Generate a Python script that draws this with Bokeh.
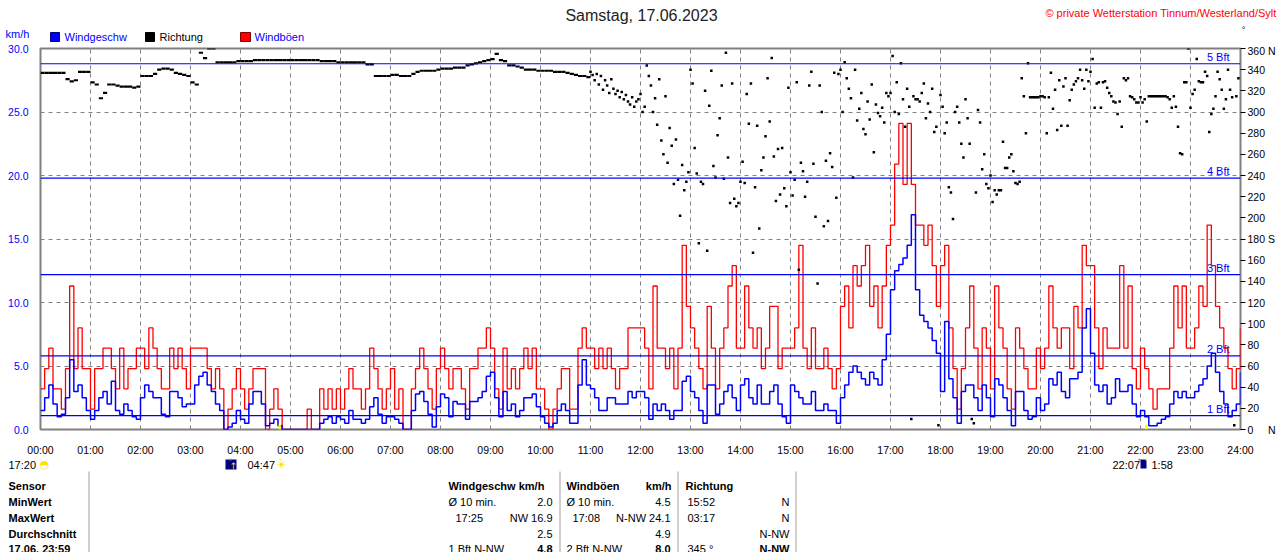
from bokeh.plotting import figure
from bokeh.layouts import column
from bokeh.models import Range1d, LinearAxis, FixedTicker, Span
from bokeh.embed import file_html
from bokeh.resources import INLINE
from bokeh.core.properties import value

# ---------------- data ----------------
hour_ticks = list(range(25))
hour_labels = ["%02d:00" % h for h in hour_ticks]
kmh_ticks = [0, 5, 10, 15, 20, 25, 30]
kmh_labels = ["0.0", "5.0", "10.0", "15.0", "20.0", "25.0", "30.0"]
dir_ticks = list(range(0, 361, 20))
dir_labels = {0: "0\u00a0\u00a0\u00a0\u00a0\u00a0N", 180: "180 S", 360: "360 N"}

# gusts (km/h), one value per 5 minutes, 00:00 .. 24:00
gust_kmh = [
    3.2, 4.8, 6.4, 3.2, 3.2, 1.6, 4.8, 11.3, 4.8, 8.0, 4.8, 4.8,
    1.6, 4.8, 4.8, 6.4, 6.4, 4.8, 3.2, 6.4, 3.2, 4.8, 4.8, 6.4,
    6.4, 4.8, 8.0, 6.4, 4.8, 3.2, 3.2, 6.4, 4.8, 6.4, 4.8, 3.2,
    6.4, 6.4, 6.4, 6.4, 4.8, 3.2, 4.8, 3.2, 0.0, 1.6, 3.2, 4.8,
    3.2, 1.6, 3.2, 4.8, 4.8, 4.8, 0.0, 1.6, 3.2, 1.6, 0.0, 0.0,
    0.0, 0.0, 0.0, 0.0, 1.6, 0.0, 0.0, 3.2, 1.6, 3.2, 1.6, 3.2,
    1.6, 3.2, 4.8, 3.2, 3.2, 1.6, 3.2, 6.4, 4.8, 3.2, 1.6, 3.2,
    4.8, 1.6, 3.2, 0.0, 0.0, 3.2, 4.8, 6.4, 4.8, 3.2, 1.6, 4.8,
    6.4, 4.8, 3.2, 4.8, 4.8, 3.2, 1.6, 4.8, 4.8, 6.4, 6.4, 8.0,
    6.4, 3.2, 1.6, 6.4, 3.2, 4.8, 3.2, 4.8, 6.4, 4.8, 6.4, 3.2,
    3.2, 1.6, 0.0, 1.6, 3.2, 4.8, 4.8, 1.6, 1.6, 6.4, 8.0, 6.4,
    6.4, 4.8, 6.4, 4.8, 6.4, 4.8, 3.2, 4.8, 4.8, 8.0, 8.0, 8.0,
    8.0, 6.4, 3.2, 11.3, 6.4, 6.4, 4.8, 6.4, 3.2, 6.4, 14.5, 9.7,
    8.0, 6.4, 4.8, 3.2, 9.7, 6.4, 3.2, 6.4, 8.0, 11.3, 12.9, 6.4,
    6.4, 11.3, 8.0, 6.4, 8.0, 4.8, 6.4, 9.7, 9.7, 4.8, 6.4, 6.4,
    6.4, 8.0, 14.5, 6.4, 4.8, 8.0, 4.8, 4.8, 6.4, 4.8, 3.2, 4.8,
    9.7, 11.3, 8.0, 12.9, 11.3, 12.9, 14.5, 9.7, 11.3, 8.0, 11.3, 14.5,
    16.1, 20.9, 24.1, 19.3, 24.1, 19.3, 16.1, 16.1, 14.5, 16.1, 12.9, 9.7,
    12.9, 14.5, 8.0, 4.8, 1.6, 4.8, 8.0, 11.3, 6.4, 3.2, 8.0, 6.4,
    3.2, 11.3, 8.0, 6.4, 3.2, 1.6, 8.0, 6.4, 4.8, 3.2, 3.2, 6.4,
    4.8, 6.4, 11.3, 8.0, 6.4, 8.0, 8.0, 4.8, 9.7, 8.0, 14.5, 12.9,
    12.9, 8.0, 4.8, 8.0, 6.4, 6.4, 6.4, 12.9, 6.4, 11.3, 4.8, 3.2,
    6.4, 4.8, 3.2, 1.6, 3.2, 3.2, 3.2, 6.4, 11.3, 8.0, 11.3, 6.4,
    6.4, 8.0, 11.3, 9.7, 16.1, 12.9, 9.7, 8.0, 6.4, 4.8, 3.2, 4.8,
    8.0,
]

# wind speed (km/h), one value per 5 minutes, 00:00 .. 24:00
speed_kmh = [
    1.5, 2.5, 3.5, 2.0, 1.0, 1.2, 2.5, 5.5, 3.0, 3.5, 2.5, 1.5,
    0.8, 1.5, 2.5, 3.0, 2.0, 3.8, 1.5, 1.2, 2.0, 1.5, 1.0, 0.8,
    2.5, 3.5, 3.0, 2.5, 2.5, 1.2, 1.0, 3.0, 3.0, 2.5, 1.8, 2.0,
    2.0, 3.5, 4.2, 4.5, 3.5, 3.0, 2.0, 1.5, 0.0, 0.2, 0.5, 1.5,
    0.8, 0.5, 2.0, 3.0, 3.0, 2.0, 0.3, 0.5, 0.8, 0.3, 0.0, 0.0,
    0.0, 0.0, 0.0, 0.0, 0.0, 0.0, 0.0, 0.5, 0.8, 1.0, 0.5, 1.0,
    0.8, 0.5, 1.5, 0.8, 0.8, 0.5, 0.8, 1.8, 2.5, 1.2, 0.5, 1.0,
    1.0, 0.8, 0.5, 0.0, 0.0, 1.5, 2.8, 3.0, 2.2, 1.2, 0.2, 1.8,
    2.8, 2.5, 1.0, 2.2, 2.0, 2.0, 0.8, 2.2, 2.2, 2.5, 3.0, 4.2,
    4.5, 2.5, 1.0, 3.0, 1.5, 2.0, 1.0, 1.5, 2.5, 2.5, 2.8, 1.8,
    1.0, 0.5, 0.2, 0.5, 1.5, 2.0, 1.5, 0.5, 0.5, 3.5, 5.5, 3.5,
    3.2, 2.5, 1.5, 1.5, 2.5, 2.5, 2.0, 2.0, 2.0, 3.0, 2.5, 3.0,
    3.0, 2.5, 0.8, 2.0, 1.5, 2.0, 1.5, 0.8, 1.5, 1.5, 3.8, 4.2,
    3.0, 2.5, 1.5, 0.5, 3.5, 3.5, 1.2, 2.0, 3.0, 3.5, 2.5, 1.5,
    3.5, 4.0, 2.5, 2.0, 3.5, 2.0, 2.0, 3.0, 3.5, 2.0, 1.0, 0.5,
    3.5, 3.0, 2.5, 2.0, 2.0, 3.0, 1.5, 1.5, 2.0, 1.5, 1.5, 0.5,
    2.5, 3.5, 4.5, 5.0, 4.5, 4.0, 3.5, 4.5, 4.0, 3.5, 5.5, 7.5,
    11.0, 12.5, 13.0, 13.5, 14.5, 16.9, 11.0, 9.0, 8.5, 8.0, 7.0, 6.0,
    3.0, 8.5, 4.0, 2.5, 0.5, 3.0, 3.5, 3.5, 2.5, 1.5, 3.5, 2.5,
    1.0, 4.0, 3.5, 2.5, 1.5, 0.3, 3.0, 3.0, 1.5, 0.8, 1.0, 2.5,
    1.5, 2.0, 4.0, 3.5, 4.5, 3.0, 2.5, 4.0, 4.0, 4.5, 8.0, 9.5,
    6.0, 3.5, 3.0, 3.5, 2.0, 2.5, 4.0, 3.0, 3.0, 3.5, 2.0, 1.0,
    1.5, 1.0, 0.3, 0.3, 0.5, 0.8, 1.0, 2.0, 3.0, 2.5, 3.0, 2.5,
    2.5, 3.0, 3.5, 4.0, 5.0, 6.0, 4.5, 3.0, 2.0, 1.0, 1.5, 2.0,
    4.5,
]

# wind direction (degrees), 00:00 .. 11:00, one value per 5 minutes
dir_steady = [
    337, 337, 337, 337, 337, 337, 331, 329, 330, 338, 338, 338,
    328, 326, 313, 318, 326, 326, 325, 324, 324, 324, 323, 324,
    334, 334, 334, 336, 340, 341, 341, 340, 337, 336, 335, 334,
    328, 326, 356, 351, 360, 360, 347, 347, 347, 347, 347, 348,
    348, 348, 348, 349, 349, 349, 349, 349, 349, 349, 349, 349,
    349, 349, 349, 349, 349, 349, 349, 348, 348, 348, 348, 347,
    347, 347, 347, 347, 347, 347, 345, 345, 334, 334, 334, 334,
    335, 335, 334, 334, 334, 336, 338, 339, 339, 339, 339, 340,
    341, 341, 341, 342, 342, 342, 344, 345, 346, 347, 348, 349,
    350, 355, 349, 348, 344, 344, 343, 342, 340, 340, 340, 339,
    339, 339, 339, 338, 338, 338, 337, 336, 335, 334, 334, 333,
]

# wind direction (degrees), 11:00 .. 24:00, one value per 2.5 minutes
dir_gusty = [
    338, 335, 330, 336, 326, 334, 321, 330, 325, 318, 331, 322, 317, 320, 314, 319, 312, 316, 310, 307, 314, 305, 310, 312,
    317, 300, 305, 344, 334, 325, 300, 313, 288, 331, 273, 260, 315, 252, 285, 268, 232, 274, 236, 202, 250, 226, 234, 243,
    340, 327, 266, 242, 176, 234, 232, 320, 169, 306, 339, 249, 238, 278, 294, 325, 237, 356, 257, 214, 327, 218, 211, 214,
    234, 253, 233, 317, 289, 327, 167, 229, 287, 190, 245, 257, 277, 332, 291, 351, 258, 216, 265, 222, 266, 228, 211, 323,
    243, 221, 236, 328, 151, 252, 244, 220, 234, 325, 338, 251, 201, 138, 325, 300, 192, 254, 197, 261, 248, 337, 219, 336,
    340, 300, 347, 332, 322, 313, 238, 340, 292, 303, 318, 284, 279, 310, 293, 326, 262, 307, 299, 296, 304, 290, 318, 315,
    318, 353, 300, 328, 298, 346, 312, 286, 322, 305, 10, 315, 312, 312, 310, 318, 327, 294, 308, 300, 322, 281, 286, 4,
    316, 305, 280, 290, 229, 224, 199, 300, 305, 290, 270, 257, 312, 294, 270, 10, 6, 224, 302, 290, 246, 260, 232, 228,
    240, 215, 226, 222, 226, 226, 272, 247, 247, 257, 260, 244, 233, 232, 234, 332, 315, 280, 346, 314, 314, 314, 314, 314,
    315, 315, 314, 280, 314, 337, 303, 321, 283, 330, 287, 324, 332, 287, 311, 321, 326, 329, 332, 340, 330, 322, 340, 329,
    338, 350, 304, 327, 328, 304, 328, 329, 323, 318, 315, 310, 309, 298, 310, 286, 332, 330, 332, 315, 314, 312, 309, 309,
    314, 309, 312, 291, 315, 315, 315, 315, 315, 315, 315, 315, 315, 314, 312, 304, 315, 305, 286, 261, 260, 328, 328, 360,
    304, 317, 321, 350, 329, 328, 328, 338, 334, 281, 298, 303, 315, 338, 331, 321, 303, 312, 340, 321, 314, 4, 315, 332,
]

bft_kmh = [1.1, 5.8, 12.2, 19.8, 28.8]
bft_names = ["1 Bft", "2 Bft", "3 Bft", "4 Bft", "5 Bft"]

sun_hours = [4.783, 22.117]      # sunrise 04:47, sunset 22:07

legend_names = ["Windgeschw", "Richtung", "Windböen"]

table_rows = ["Sensor", "MinWert", "MaxWert", "Durchschnitt", "17.06. 23:59"]
speed_col = [("Ø 10 min.", "2.0"), ("17:25", "NW 16.9"), ("", "2.5"), ("1 Bft N-NW", "4.8")]
gust_col = [("Ø 10 min.", "4.5"), ("17:08", "N-NW 24.1"), ("", "4.9"), ("2 Bft N-NW", "8.0")]
dir_col = [("15:52", "N"), ("03:17", "N"), ("", "N-NW"), ("345 °", "N-NW")]

# ---------------- styling ----------------
BLUE = "#0000FF"
RED = "#FF0000"
GRAY = "#808080"
FONT = "Liberation Sans"
W = 1280
HEAD_H, MAIN_H, FOOT_H = 44, 414, 94      # page rows 0-44, 44-458, 458-552


def no_align(f):
    try:
        f.frame_align = False
    except Exception:
        pass


def blank(height, y_top, y_bottom):
    f = figure(width=W, height=height, output_backend="svg", toolbar_location=None,
               x_range=Range1d(0, W), y_range=Range1d(y_bottom, y_top),
               x_axis_location=None, y_axis_location=None,
               min_border=0, min_border_left=0, min_border_right=0,
               min_border_top=0, min_border_bottom=0,
               background_fill_color="white", border_fill_color="white",
               outline_line_color=None)
    f.xgrid.visible = False
    f.ygrid.visible = False
    no_align(f)
    return f


def txt(f, text, x, y, color="black", size="11px", align="left", style="normal",
        font=FONT):
    f.text(x=[x], y=[y], text=[text], text_color=color, text_font_size=size,
           text_align=align, text_baseline="middle", text_font=value(font),
           text_font_style=style)


# ---------------- header ----------------
head = blank(HEAD_H, 0, HEAD_H)
txt(head, "Samstag, 17.06.2023", 641, 15, "#222222", "16px", "center")
txt(head, "\u00a9 private Wetterstation Tinnum/Westerland/Sylt", 1276, 12, RED, "11px", "right")
txt(head, "\u00b0", 1243, 29, "black", "9px", "center")
txt(head, "km/h", 5, 33, BLUE)
head.quad(left=[50, 145, 240], right=[59, 154, 250], top=[32, 32, 32], bottom=[41, 41, 41],
          fill_color=[BLUE, "black", RED], line_color=["#000080", "black", "#800000"])
txt(head, legend_names[0], 64, 36.5, BLUE)
txt(head, legend_names[1], 159, 36.5, "black")
txt(head, legend_names[2], 254, 36.5, BLUE)

# ---------------- main chart ----------------
p = figure(width=W, height=MAIN_H, output_backend="svg", toolbar_location=None,
           x_range=Range1d(0, 24), y_range=Range1d(0, 30),
           min_border_left=40, min_border_right=40, min_border_top=4, min_border_bottom=20,
           background_fill_color="white", border_fill_color="white",
           outline_line_color=GRAY, outline_line_width=2)
no_align(p)
p.extra_y_ranges = {"dir": Range1d(0, 360)}

xa = p.xaxis[0]
xa.ticker = FixedTicker(ticks=hour_ticks)
xa.major_label_overrides = {h: s for h, s in zip(hour_ticks, hour_labels)}
xa.major_tick_line_color = None
xa.minor_tick_line_color = None
xa.axis_line_color = None
xa.major_label_standoff = 8
xa.major_label_text_font = FONT
xa.major_label_text_font_size = "10.5px"
xa.major_label_text_color = "black"

ya = p.yaxis[0]
ya.ticker = FixedTicker(ticks=kmh_ticks)
ya.major_label_overrides = {v: s for v, s in zip(kmh_ticks, kmh_labels)}
ya.major_tick_line_color = None
ya.minor_tick_line_color = None
ya.axis_line_color = None
ya.major_label_standoff = 6
ya.major_label_text_font = FONT
ya.major_label_text_font_size = "10.5px"
ya.major_label_text_color = BLUE

ra = LinearAxis(y_range_name="dir", ticker=FixedTicker(ticks=dir_ticks),
                major_label_overrides=dir_labels)
ra.major_tick_out = 5
ra.major_tick_in = 0
ra.major_tick_line_color = "black"
ra.minor_tick_line_color = None
ra.axis_line_color = None
ra.major_label_standoff = 2
ra.major_label_text_font = FONT
ra.major_label_text_font_size = "10.5px"
ra.major_label_text_color = "black"
p.add_layout(ra, "right")

for g in (p.xgrid[0], p.ygrid[0]):
    g.grid_line_color = GRAY
    g.grid_line_dash = "4 4"
    g.grid_line_width = 1
p.xgrid[0].ticker = xa.ticker
p.ygrid[0].ticker = ya.ticker

# Beaufort labels (under the data)
p.text(x=[23.78] * len(bft_kmh), y=bft_kmh, text=bft_names, text_align="right",
       text_baseline="bottom", y_offset=-1, text_color=BLUE,
       text_font=value(FONT), text_font_size="11px")

t_gust = [i * 5 / 60 for i in range(len(gust_kmh))]
t_speed = [i * 5 / 60 for i in range(len(speed_kmh))]
p.step(t_gust, gust_kmh, mode="after", line_color=RED, line_width=1.3)
p.step(t_speed, speed_kmh, mode="after", line_color=BLUE, line_width=1.5)

t_dir1 = [i * 5 / 60 + 2.5 / 60 for i in range(len(dir_steady))]
p.rect(x=t_dir1, y=dir_steady, width=5 / 60, height=2.2, height_units="screen",
       y_range_name="dir", fill_color="black", line_color=None)
t_dir2 = [11 + i * 2.5 / 60 for i in range(len(dir_gusty))]
p.rect(x=t_dir2, y=dir_gusty, width=2.5, height=2.5, width_units="screen",
       height_units="screen", y_range_name="dir", fill_color="black", line_color=None)

# sunrise / sunset marks at the base line
p.segment(x0=sun_hours, y0=[0, 0], x1=sun_hours, y1=[0.4, 0.4],
          line_color="#FFFF00", line_width=2.5)

for v in bft_kmh:
    p.add_layout(Span(location=v, dimension="width", line_color=BLUE, line_width=1.2))

# ---------------- footer ----------------
top = HEAD_H + MAIN_H
foot = blank(FOOT_H, top, top + FOOT_H)
txt(foot, "17:20", 8, 464)
txt(foot, "\u25d3", 44, 464, "#FFE000", "11px", "center", font="DejaVu Sans")
foot.quad(left=[225, 1140], right=[236, 1146], top=[459, 459], bottom=[469, 468],
          fill_color="#000080", line_color=None)
foot.quad(left=[229, 279, 1138, 1145], right=[231, 281, 1140, 1147],
          top=[458, 458, 458, 458], bottom=[460, 460, 460, 460],
          fill_color=[GRAY, "#FFFF00", GRAY, "#FFFF00"], line_color=None)
txt(foot, "\u2191", 233, 465, "#FFE000", "9px", "center", font="DejaVu Sans")
txt(foot, "04:47", 247, 464)
txt(foot, "\u2600", 281, 464, "#FFE000", "12px", "center", font="DejaVu Sans")
txt(foot, "22:07", 1112, 464)
txt(foot, "1:58", 1151, 464)

seps = [88, 559, 677, 795]
foot.quad(left=seps, right=[s + 1 for s in seps], top=[471] * 4, bottom=[552] * 4,
          fill_color="#A0A0A0", line_color=None)
row_y = [485, 501, 517, 533, 548]
for name, y in zip(table_rows, row_y):
    txt(foot, name, 8, y, style="bold")
txt(foot, "Windgeschw km/h", 448, row_y[0], style="bold")
txt(foot, "Windböen", 566, row_y[0], style="bold")
txt(foot, "km/h", 671, row_y[0], align="right", style="bold")
txt(foot, "Richtung", 685, row_y[0], style="bold")
for i, (a, b) in enumerate(speed_col):
    y = row_y[i + 1]
    if a:
        txt(foot, a, 448 if i != 1 else 455, y)
    txt(foot, b, 552, y, align="right", style="bold" if i == 3 else "normal")
for i, (a, b) in enumerate(gust_col):
    y = row_y[i + 1]
    if a:
        txt(foot, a, 566 if i != 1 else 572, y)
    txt(foot, b, 670, y, align="right", style="bold" if i == 3 else "normal")
for i, (a, b) in enumerate(dir_col):
    y = row_y[i + 1]
    if a:
        txt(foot, a, 687, y)
    txt(foot, b, 789, y, align="right", style="bold" if i == 3 else "normal")

layout = column(head, p, foot, spacing=0)
open("out.html", "w", encoding="utf-8").write(file_html(layout, INLINE))
